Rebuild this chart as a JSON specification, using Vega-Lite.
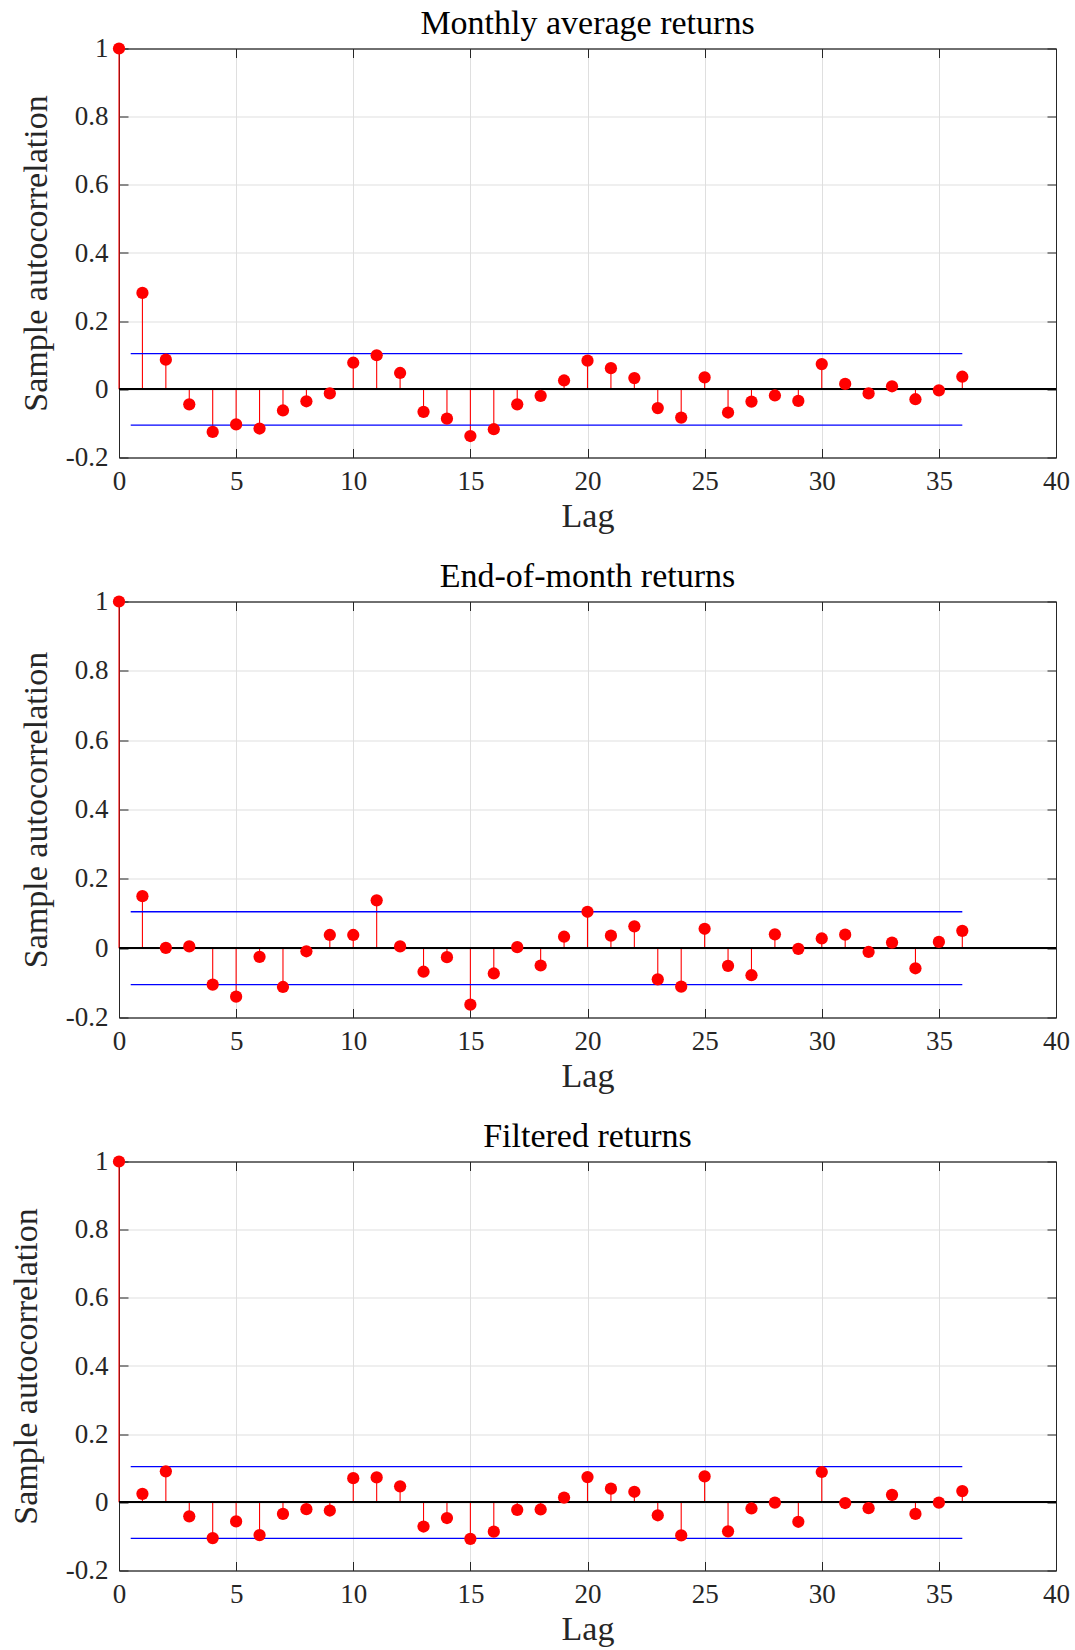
{
  "$schema": "https://vega.github.io/schema/vega-lite/v6.json",
  "padding": {"left": 8, "top": 6.5, "right": 4, "bottom": 2},
  "background": "white",
  "datasets": {
    "acf": [
      {"panel": "A", "lag": 0, "r": 1}, {"panel": "A", "lag": 1, "r": 0.283}, {"panel": "A", "lag": 2, "r": 0.087}, {"panel": "A", "lag": 3, "r": -0.044},
      {"panel": "A", "lag": 4, "r": -0.125}, {"panel": "A", "lag": 5, "r": -0.103}, {"panel": "A", "lag": 6, "r": -0.115}, {"panel": "A", "lag": 7, "r": -0.062},
      {"panel": "A", "lag": 8, "r": -0.035}, {"panel": "A", "lag": 9, "r": -0.012}, {"panel": "A", "lag": 10, "r": 0.078}, {"panel": "A", "lag": 11, "r": 0.1},
      {"panel": "A", "lag": 12, "r": 0.048}, {"panel": "A", "lag": 13, "r": -0.066}, {"panel": "A", "lag": 14, "r": -0.086}, {"panel": "A", "lag": 15, "r": -0.137},
      {"panel": "A", "lag": 16, "r": -0.117}, {"panel": "A", "lag": 17, "r": -0.044}, {"panel": "A", "lag": 18, "r": -0.019}, {"panel": "A", "lag": 19, "r": 0.026},
      {"panel": "A", "lag": 20, "r": 0.084}, {"panel": "A", "lag": 21, "r": 0.062}, {"panel": "A", "lag": 22, "r": 0.033}, {"panel": "A", "lag": 23, "r": -0.055},
      {"panel": "A", "lag": 24, "r": -0.083}, {"panel": "A", "lag": 25, "r": 0.035}, {"panel": "A", "lag": 26, "r": -0.068}, {"panel": "A", "lag": 27, "r": -0.036},
      {"panel": "A", "lag": 28, "r": -0.018}, {"panel": "A", "lag": 29, "r": -0.034}, {"panel": "A", "lag": 30, "r": 0.074}, {"panel": "A", "lag": 31, "r": 0.016},
      {"panel": "A", "lag": 32, "r": -0.012}, {"panel": "A", "lag": 33, "r": 0.009}, {"panel": "A", "lag": 34, "r": -0.029}, {"panel": "A", "lag": 35, "r": -0.003},
      {"panel": "A", "lag": 36, "r": 0.037},
      {"panel": "B", "lag": 0, "r": 1}, {"panel": "B", "lag": 1, "r": 0.15}, {"panel": "B", "lag": 2, "r": 0.001}, {"panel": "B", "lag": 3, "r": 0.005},
      {"panel": "B", "lag": 4, "r": -0.105}, {"panel": "B", "lag": 5, "r": -0.14}, {"panel": "B", "lag": 6, "r": -0.025}, {"panel": "B", "lag": 7, "r": -0.112},
      {"panel": "B", "lag": 8, "r": -0.009}, {"panel": "B", "lag": 9, "r": 0.038}, {"panel": "B", "lag": 10, "r": 0.038}, {"panel": "B", "lag": 11, "r": 0.138},
      {"panel": "B", "lag": 12, "r": 0.005}, {"panel": "B", "lag": 13, "r": -0.068}, {"panel": "B", "lag": 14, "r": -0.026}, {"panel": "B", "lag": 15, "r": -0.163},
      {"panel": "B", "lag": 16, "r": -0.073}, {"panel": "B", "lag": 17, "r": 0.003}, {"panel": "B", "lag": 18, "r": -0.05}, {"panel": "B", "lag": 19, "r": 0.033},
      {"panel": "B", "lag": 20, "r": 0.105}, {"panel": "B", "lag": 21, "r": 0.036}, {"panel": "B", "lag": 22, "r": 0.063}, {"panel": "B", "lag": 23, "r": -0.09},
      {"panel": "B", "lag": 24, "r": -0.111}, {"panel": "B", "lag": 25, "r": 0.056}, {"panel": "B", "lag": 26, "r": -0.051}, {"panel": "B", "lag": 27, "r": -0.078},
      {"panel": "B", "lag": 28, "r": 0.04}, {"panel": "B", "lag": 29, "r": -0.002}, {"panel": "B", "lag": 30, "r": 0.028}, {"panel": "B", "lag": 31, "r": 0.039},
      {"panel": "B", "lag": 32, "r": -0.011}, {"panel": "B", "lag": 33, "r": 0.016}, {"panel": "B", "lag": 34, "r": -0.058}, {"panel": "B", "lag": 35, "r": 0.018},
      {"panel": "B", "lag": 36, "r": 0.05},
      {"panel": "C", "lag": 0, "r": 1}, {"panel": "C", "lag": 1, "r": 0.025}, {"panel": "C", "lag": 2, "r": 0.091}, {"panel": "C", "lag": 3, "r": -0.041},
      {"panel": "C", "lag": 4, "r": -0.105}, {"panel": "C", "lag": 5, "r": -0.056}, {"panel": "C", "lag": 6, "r": -0.096}, {"panel": "C", "lag": 7, "r": -0.034},
      {"panel": "C", "lag": 8, "r": -0.02}, {"panel": "C", "lag": 9, "r": -0.024}, {"panel": "C", "lag": 10, "r": 0.071}, {"panel": "C", "lag": 11, "r": 0.073},
      {"panel": "C", "lag": 12, "r": 0.047}, {"panel": "C", "lag": 13, "r": -0.071}, {"panel": "C", "lag": 14, "r": -0.046}, {"panel": "C", "lag": 15, "r": -0.107},
      {"panel": "C", "lag": 16, "r": -0.086}, {"panel": "C", "lag": 17, "r": -0.022}, {"panel": "C", "lag": 18, "r": -0.021}, {"panel": "C", "lag": 19, "r": 0.014},
      {"panel": "C", "lag": 20, "r": 0.074}, {"panel": "C", "lag": 21, "r": 0.04}, {"panel": "C", "lag": 22, "r": 0.031}, {"panel": "C", "lag": 23, "r": -0.038},
      {"panel": "C", "lag": 24, "r": -0.097}, {"panel": "C", "lag": 25, "r": 0.076}, {"panel": "C", "lag": 26, "r": -0.085}, {"panel": "C", "lag": 27, "r": -0.018},
      {"panel": "C", "lag": 28, "r": -0.001}, {"panel": "C", "lag": 29, "r": -0.057}, {"panel": "C", "lag": 30, "r": 0.089}, {"panel": "C", "lag": 31, "r": -0.002},
      {"panel": "C", "lag": 32, "r": -0.017}, {"panel": "C", "lag": 33, "r": 0.022}, {"panel": "C", "lag": 34, "r": -0.034}, {"panel": "C", "lag": 35, "r": -0.001},
      {"panel": "C", "lag": 36, "r": 0.033}
    ],
    "bounds": [
      {"panel": "A", "lo": 0.5, "hi": 36, "b": 0.105}, {"panel": "A", "lo": 0.5, "hi": 36, "b": -0.105},
      {"panel": "B", "lo": 0.5, "hi": 36, "b": 0.105}, {"panel": "B", "lo": 0.5, "hi": 36, "b": -0.105},
      {"panel": "C", "lo": 0.5, "hi": 36, "b": 0.105}, {"panel": "C", "lo": 0.5, "hi": 36, "b": -0.106}
    ]
  },
  "bounds": "flush",
  "spacing": 144,
  "vconcat": [
    {
      "width": 937, "height": 409,
      "title": {"text": "Monthly average returns"},
      "resolve": {"axis": {"x": "independent", "y": "independent"}},
      "layer": [
        {"data": {"name": "acf"}, "transform": [{"filter": "datum.panel === 'A'"}],
         "mark": {"type": "rule", "color": "#ff0000", "strokeWidth": 1.1},
         "encoding": {
           "x": {"field": "lag", "type": "quantitative", "scale": {"domain": [0, 40], "nice": false, "zero": false},
                 "axis": {"orient": "bottom", "grid": true, "values": [0, 5, 10, 15, 20, 25, 30, 35, 40], "title": "Lag", "titleY": 69, "titleBaseline": "alphabetic"}},
           "y": {"field": "r", "type": "quantitative", "scale": {"domain": [-0.2, 1], "nice": false, "zero": false},
                 "axis": {"orient": "left", "grid": true, "values": [-0.2, 0, 0.2, 0.4, 0.6, 0.8, 1], "title": "Sample autocorrelation", "titleX": -83, "titleY": 204.5}},
           "y2": {"datum": 0}}},
        {"data": {"name": "bounds"}, "transform": [{"filter": "datum.panel === 'A'"}],
         "mark": {"type": "rule", "color": "#0000ff", "strokeWidth": 1.3},
         "encoding": {
           "x": {"field": "lo", "type": "quantitative", "scale": {"domain": [0, 40], "nice": false, "zero": false}, "axis": null},
           "x2": {"field": "hi"},
           "y": {"field": "b", "type": "quantitative", "scale": {"domain": [-0.2, 1], "nice": false, "zero": false}, "axis": null}}},
        {"data": {"name": "acf"}, "transform": [{"filter": "datum.panel === 'A'"}],
         "mark": {"type": "rule", "color": "#000000", "strokeWidth": 1},
         "encoding": {"y": {"datum": 0, "type": "quantitative", "scale": {"domain": [-0.2, 1], "nice": false, "zero": false}, "axis": null}}},
        {"data": {"name": "acf"}, "transform": [{"filter": "datum.panel === 'A'"}],
         "mark": {"type": "point", "shape": "circle", "filled": true, "size": 150, "color": "#ff0000", "opacity": 1},
         "encoding": {
           "x": {"field": "lag", "type": "quantitative", "scale": {"domain": [0, 40], "nice": false, "zero": false},
                 "axis": {"orient": "top", "grid": false, "values": [0, 5, 10, 15, 20, 25, 30, 35, 40], "labels": false, "title": null}},
           "y": {"field": "r", "type": "quantitative", "scale": {"domain": [-0.2, 1], "nice": false, "zero": false},
                 "axis": {"orient": "right", "grid": false, "values": [-0.2, 0, 0.2, 0.4, 0.6, 0.8, 1], "labels": false, "title": null}}}}
      ]
    },
    {
      "width": 937, "height": 416,
      "title": {"text": "End-of-month returns"},
      "resolve": {"axis": {"x": "independent", "y": "independent"}},
      "layer": [
        {"data": {"name": "acf"}, "transform": [{"filter": "datum.panel === 'B'"}],
         "mark": {"type": "rule", "color": "#ff0000", "strokeWidth": 1.1},
         "encoding": {
           "x": {"field": "lag", "type": "quantitative", "scale": {"domain": [0, 40], "nice": false, "zero": false},
                 "axis": {"orient": "bottom", "grid": true, "values": [0, 5, 10, 15, 20, 25, 30, 35, 40], "title": "Lag", "titleY": 69, "titleBaseline": "alphabetic"}},
           "y": {"field": "r", "type": "quantitative", "scale": {"domain": [-0.2, 1], "nice": false, "zero": false},
                 "axis": {"orient": "left", "grid": true, "values": [-0.2, 0, 0.2, 0.4, 0.6, 0.8, 1], "title": "Sample autocorrelation", "titleX": -83, "titleY": 208}},
           "y2": {"datum": 0}}},
        {"data": {"name": "bounds"}, "transform": [{"filter": "datum.panel === 'B'"}],
         "mark": {"type": "rule", "color": "#0000ff", "strokeWidth": 1.3},
         "encoding": {
           "x": {"field": "lo", "type": "quantitative", "scale": {"domain": [0, 40], "nice": false, "zero": false}, "axis": null},
           "x2": {"field": "hi"},
           "y": {"field": "b", "type": "quantitative", "scale": {"domain": [-0.2, 1], "nice": false, "zero": false}, "axis": null}}},
        {"data": {"name": "acf"}, "transform": [{"filter": "datum.panel === 'B'"}],
         "mark": {"type": "rule", "color": "#000000", "strokeWidth": 1},
         "encoding": {"y": {"datum": 0, "type": "quantitative", "scale": {"domain": [-0.2, 1], "nice": false, "zero": false}, "axis": null}}},
        {"data": {"name": "acf"}, "transform": [{"filter": "datum.panel === 'B'"}],
         "mark": {"type": "point", "shape": "circle", "filled": true, "size": 150, "color": "#ff0000", "opacity": 1},
         "encoding": {
           "x": {"field": "lag", "type": "quantitative", "scale": {"domain": [0, 40], "nice": false, "zero": false},
                 "axis": {"orient": "top", "grid": false, "values": [0, 5, 10, 15, 20, 25, 30, 35, 40], "labels": false, "title": null}},
           "y": {"field": "r", "type": "quantitative", "scale": {"domain": [-0.2, 1], "nice": false, "zero": false},
                 "axis": {"orient": "right", "grid": false, "values": [-0.2, 0, 0.2, 0.4, 0.6, 0.8, 1], "labels": false, "title": null}}}}
      ]
    },
    {
      "width": 937, "height": 409,
      "title": {"text": "Filtered returns"},
      "resolve": {"axis": {"x": "independent", "y": "independent"}},
      "layer": [
        {"data": {"name": "acf"}, "transform": [{"filter": "datum.panel === 'C'"}],
         "mark": {"type": "rule", "color": "#ff0000", "strokeWidth": 1.1},
         "encoding": {
           "x": {"field": "lag", "type": "quantitative", "scale": {"domain": [0, 40], "nice": false, "zero": false},
                 "axis": {"orient": "bottom", "grid": true, "values": [0, 5, 10, 15, 20, 25, 30, 35, 40], "title": "Lag", "titleY": 69, "titleBaseline": "alphabetic"}},
           "y": {"field": "r", "type": "quantitative", "scale": {"domain": [-0.2, 1], "nice": false, "zero": false},
                 "axis": {"orient": "left", "grid": true, "values": [-0.2, 0, 0.2, 0.4, 0.6, 0.8, 1], "title": "Sample autocorrelation", "titleX": -92.5, "titleY": 204.5}},
           "y2": {"datum": 0}}},
        {"data": {"name": "bounds"}, "transform": [{"filter": "datum.panel === 'C'"}],
         "mark": {"type": "rule", "color": "#0000ff", "strokeWidth": 1.3},
         "encoding": {
           "x": {"field": "lo", "type": "quantitative", "scale": {"domain": [0, 40], "nice": false, "zero": false}, "axis": null},
           "x2": {"field": "hi"},
           "y": {"field": "b", "type": "quantitative", "scale": {"domain": [-0.2, 1], "nice": false, "zero": false}, "axis": null}}},
        {"data": {"name": "acf"}, "transform": [{"filter": "datum.panel === 'C'"}],
         "mark": {"type": "rule", "color": "#000000", "strokeWidth": 1},
         "encoding": {"y": {"datum": 0, "type": "quantitative", "scale": {"domain": [-0.2, 1], "nice": false, "zero": false}, "axis": null}}},
        {"data": {"name": "acf"}, "transform": [{"filter": "datum.panel === 'C'"}],
         "mark": {"type": "point", "shape": "circle", "filled": true, "size": 150, "color": "#ff0000", "opacity": 1},
         "encoding": {
           "x": {"field": "lag", "type": "quantitative", "scale": {"domain": [0, 40], "nice": false, "zero": false},
                 "axis": {"orient": "top", "grid": false, "values": [0, 5, 10, 15, 20, 25, 30, 35, 40], "labels": false, "title": null}},
           "y": {"field": "r", "type": "quantitative", "scale": {"domain": [-0.2, 1], "nice": false, "zero": false},
                 "axis": {"orient": "right", "grid": false, "values": [-0.2, 0, 0.2, 0.4, 0.6, 0.8, 1], "labels": false, "title": null}}}}
      ]
    }
  ],
  "config": {
    "font": "Liberation Serif",
    "view": {"stroke": "#262626", "strokeWidth": 1},
    "title": {"font": "Liberation Serif", "fontSize": 34, "fontWeight": "normal", "color": "#000000", "frame": "group", "anchor": "middle", "baseline": "alphabetic", "offset": -6.5},
    "axis": {
      "domain": true, "domainColor": "#262626", "domainWidth": 1,
      "gridColor": "#dfdfdf", "gridWidth": 1, "gridOpacity": 1,
      "ticks": true, "tickSize": -9, "tickColor": "#262626", "tickWidth": 1,
      "labelFont": "Liberation Serif", "labelFontSize": 27, "labelColor": "#262626",
      "labelFlush": false, "labelOverlap": false,
      "titleFont": "Liberation Serif", "titleFontSize": 34, "titleFontWeight": "normal", "titleColor": "#262626"
    },
    "axisX": {"labelPadding": 20},
    "axisY": {"labelPadding": 20, "titleAngle": -90, "titleBaseline": "middle", "titleAlign": "center",
              "labelExpr": "datum.value < 0 ? '-' + format(-datum.value, '~g') : format(datum.value, '~g')"}
  }
}
